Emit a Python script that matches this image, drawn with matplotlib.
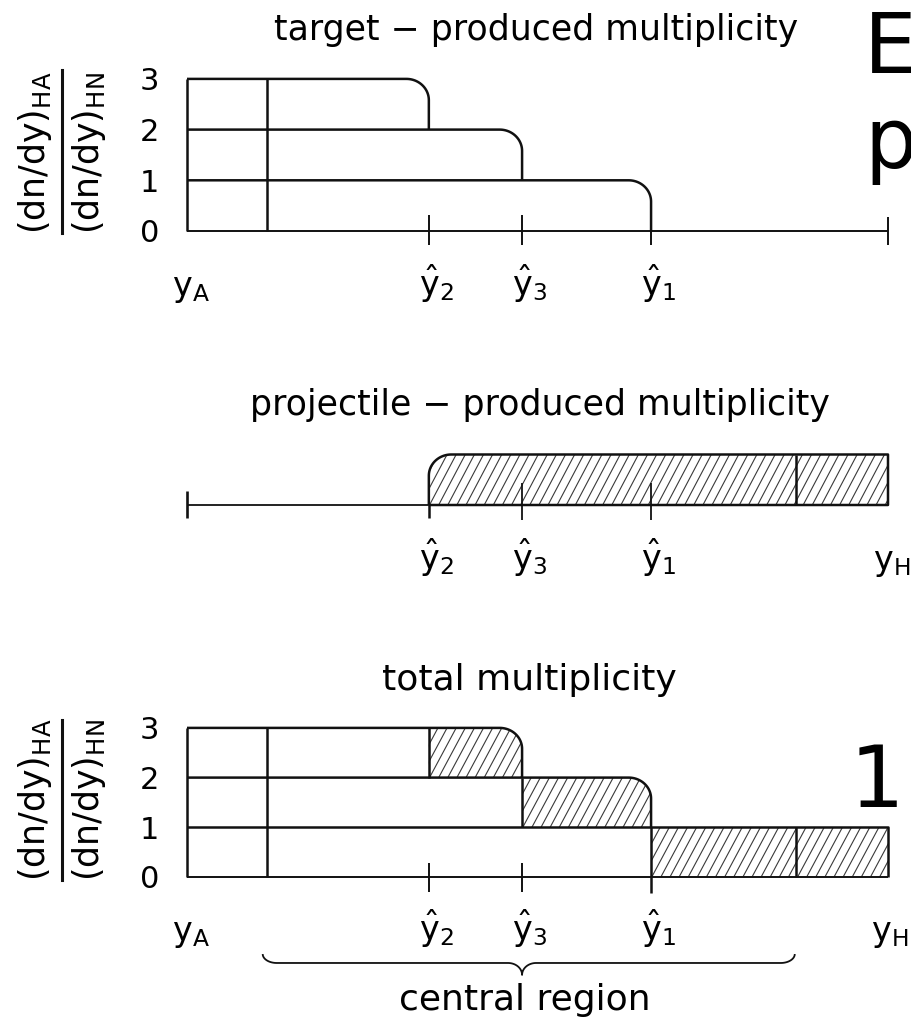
import numpy as np
import matplotlib
matplotlib.use("Agg")
import matplotlib.pyplot as plt
from matplotlib.patches import Polygon
from matplotlib.collections import LineCollection

plt.rcParams['font.family'] = ['DejaVu Sans']
plt.rcParams['mathtext.default'] = 'regular'

# rapidity axis (arbitrary units, y_A = 0, y_H = 10)
y_A = 0.0
y_H = 10.0
y_left_cut = 1.14     # inner vertical line near y_A
y_right_cut = 8.69    # inner vertical line near y_H
y_hat = [3.45, 4.78, 6.62]          # positions of y^2, y^3, y^1
hat_labels = [r'$\hat{y}_2$', r'$\hat{y}_3$', r'$\hat{y}_1$']

# target-produced multiplicity: level k ends at y_hat[k]
target_levels = [3, 2, 1]
# projectile-produced multiplicity: one unit from y^2 to y_H
proj_level = 1
proj_start = y_hat[0]
# total = target + projectile
total_levels = [t + proj_level for t in [2, 1, 0]]   # 3, 2, 1
total_starts = y_hat                                  # hatched part starts
total_ends = y_hat[1:] + [y_H]

ytick_vals = [0, 1, 2, 3]
titles = ['target − produced multiplicity',
          'projectile − produced multiplicity',
          'total multiplicity']
ylabel_num = r'$(dn/dy)_{HA}$'
ylabel_den = r'$(dn/dy)_{HN}$'

W_PX, H_PX = 912, 1019
RX, RY = 0.32, 0.42
LW = 1.8
INK = '#111111'

fig = plt.figure(figsize=(W_PX / 100, H_PX / 100), dpi=100)


def fx(px):
    return px / W_PX


def fy(py):
    return 1 - py / H_PX


def panel(base_px, unit_px):
    left, right = 187, 888
    ax = fig.add_axes([fx(left), fy(base_px), (right - left) / W_PX, 3 * unit_px / H_PX])
    ax.set_xlim(y_A, y_H)
    ax.set_ylim(0, 3)
    for s in ax.spines.values():
        s.set_visible(False)
    ax.set_xticks([])
    ax.set_yticks([])
    ax.patch.set_alpha(0)
    return ax


def drop(x0, x1, top, bottom):
    t = np.linspace(0, np.pi / 2, 25)
    xs = np.r_[x0, x1 - RX + RX * np.sin(t), x1]
    ys = np.r_[top, top - RY + RY * np.cos(t), bottom]
    return xs, ys


def hatch(ax, xs, ys, spacing=0.13, shift=0.38):
    poly = Polygon(np.column_stack([xs, ys]), closed=True, fill=False,
                   edgecolor='none', clip_on=False)
    ax.add_patch(poly)
    x0, x1, y0, y1 = min(xs), max(xs), min(ys), max(ys)
    h = y1 - y0
    offs = np.arange(x0 - shift * h, x1 + spacing, spacing)
    segs = [[(c, y0), (c + shift * h, y1)] for c in offs]
    lc = LineCollection(segs, colors='#3a3a3a', linewidths=0.8)
    lc.set_clip_path(poly)
    ax.add_collection(lc)


def line(ax, xs, ys, lw=LW):
    ax.plot(xs, ys, color=INK, lw=lw, clip_on=False, solid_capstyle='butt')


def ytick_labels(ax):
    ax.set_yticks(ytick_vals)
    ax.set_yticklabels([str(v) for v in ytick_vals])
    ax.tick_params(axis='y', length=0, pad=20, labelsize=22)


def frac_label(cy, y0, y1):
    fig.text(fx(35), fy(cy), ylabel_num, rotation=90, ha='center', va='center', fontsize=25)
    fig.text(fx(89), fy(cy), ylabel_den, rotation=90, ha='center', va='center', fontsize=25)
    fig.add_artist(plt.Line2D([fx(62), fx(62)], [fy(y0), fy(y1)], color=INK, lw=2.2))


LABEL_Y = -1.28
FS_LAB = 24
FS_TITLE = 25

# ---------------- top panel: target-produced ----------------
ax1 = panel(231, 50.7)
ytick_labels(ax1)
line(ax1, [y_A, y_H], [0, 0], lw=1.4)
line(ax1, [y_A, y_A], [0, 3])
line(ax1, [y_left_cut, y_left_cut], [0, 3])
for lev, xe in zip(target_levels, y_hat):
    xs, ys = drop(y_A, xe, lev, lev - 1)
    line(ax1, xs, ys)
for xt in y_hat:
    line(ax1, [xt, xt], [-0.28, 0.32], lw=1.4)
line(ax1, [y_H, y_H], [-0.28, 0.28], lw=1.4)
ax1.text(y_A + 0.06, LABEL_Y, r'$y_A$', ha='center', va='baseline', fontsize=FS_LAB)
for xt, lab in zip(y_hat, hat_labels):
    ax1.text(xt + 0.1, LABEL_Y, lab, ha='center', va='baseline', fontsize=FS_LAB)
ax1.text(4.98, 3.77, titles[0], ha='center', va='baseline', fontsize=FS_TITLE)
frac_label(153, 70, 233)

# ---------------- middle panel: projectile-produced ----------------
ax2 = panel(505, 50.5)
t = np.linspace(0, np.pi / 2, 25)
bx = np.r_[proj_start, proj_start, proj_start + RX - RX * np.cos(t), y_H, y_H, proj_start]
by = np.r_[0, proj_level - RY, proj_level - RY + RY * np.sin(t), proj_level, 0, 0]
hatch(ax2, bx, by)
line(ax2, bx, by)
line(ax2, [y_A, proj_start], [0, 0], lw=1.3)
line(ax2, [y_A, y_A], [-0.26, 0.28], lw=1.9)
line(ax2, [proj_start, proj_start], [-0.26, 0], lw=LW)
line(ax2, [y_right_cut, y_right_cut], [0, proj_level])
for xt in y_hat[1:]:
    line(ax2, [xt, xt], [-0.3, 0.43], lw=1.3)
for xt, lab in zip(y_hat, hat_labels):
    ax2.text(xt + 0.1, LABEL_Y, lab, ha='center', va='baseline', fontsize=FS_LAB)
ax2.text(9.79, LABEL_Y, r'$y_H$', ha='left', va='baseline', fontsize=FS_LAB)
ax2.text(5.03, 1.78, titles[1], ha='center', va='baseline', fontsize=FS_TITLE)

# ---------------- bottom panel: total ----------------
ax3 = panel(877, 49.7)
ytick_labels(ax3)
for lev, xs0, xe in zip(total_levels, total_starts, total_ends):
    if xe < y_H:
        hx, hy = drop(xs0, xe, lev, lev - 1)
        hx = np.r_[xs0, hx, xs0]
        hy = np.r_[lev - 1, hy, lev - 1]
        lx, ly = drop(y_A, xe, lev, lev - 1)
    else:
        hx = np.array([xs0, xs0, xe, xe, xs0])
        hy = np.array([lev - 1, lev, lev, lev - 1, lev - 1])
        lx, ly = [y_A, y_H, y_H], [lev, lev, lev - 1]
    hatch(ax3, hx, hy)
    line(ax3, lx, ly)
    line(ax3, [xs0, xs0], [lev - 1, lev])
line(ax3, [y_A, y_H], [0, 0], lw=1.4)
line(ax3, [y_A, y_A], [0, 3])
line(ax3, [y_left_cut, y_left_cut], [0, 3])
line(ax3, [y_right_cut, y_right_cut], [0, 1])
for xt in y_hat[:2]:
    line(ax3, [xt, xt], [-0.3, 0.28], lw=1.4)
line(ax3, [y_hat[2], y_hat[2]], [-0.32, 0], lw=LW)
ax3.text(y_A + 0.06, LABEL_Y, r'$y_A$', ha='center', va='baseline', fontsize=FS_LAB)
for xt, lab in zip(y_hat, hat_labels):
    ax3.text(xt + 0.1, LABEL_Y, lab, ha='center', va='baseline', fontsize=FS_LAB)
ax3.text(9.76, LABEL_Y, r'$y_H$', ha='left', va='baseline', fontsize=FS_LAB)
ax3.text(4.88, 3.76, titles[2], ha='center', va='baseline', fontsize=26)
frac_label(800, 720, 880)

# curly brace for the central region
b0, b1, bc = 1.08, 8.67, y_hat[1]
yf, ye, ytip, hxb = -1.73, -1.55, -1.97, 0.2
tt = np.linspace(0, np.pi / 2, 20)
brx = np.r_[b0 + hxb - hxb * np.cos(tt),
            bc - hxb + hxb * np.sin(tt),
            bc + hxb - hxb * np.sin(tt[::-1]),
            (b1 - hxb + hxb * np.cos(tt))[::-1]]
bry = np.r_[ye - (ye - yf) * np.sin(tt),
            ytip + (yf - ytip) * np.cos(tt),
            ytip + (yf - ytip) * np.cos(tt[::-1]),
            (ye - (ye - yf) * np.sin(tt))[::-1]]
line(ax3, brx, bry, lw=1.3)
ax3.text(4.82, -2.68, 'central region', ha='center', va='baseline', fontsize=26)

# slide text cut off on the right edge (as in the source image)
fig.text(fx(864), fy(73), 'E', fontsize=60, va='baseline', ha='left')
fig.text(fx(864), fy(168), 'p', fontsize=60, va='baseline', ha='left')
fig.text(fx(850), fy(807), '1', fontsize=62, va='baseline', ha='left')

fig.savefig('out.png', dpi=100)
